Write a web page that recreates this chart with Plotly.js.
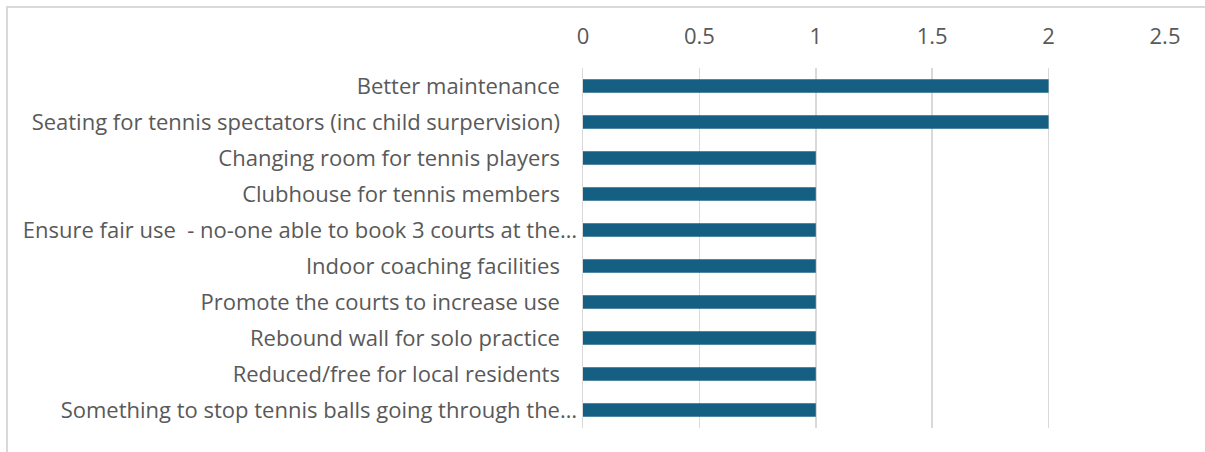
<!DOCTYPE html>
<html>
<head>
<meta charset="utf-8">
<script src="https://cdn.plot.ly/plotly-3.0.1.min.js"></script>
<style>
  html, body { margin: 0; padding: 0; background: #fff; }
  #chart { position: absolute; left: 0; top: 0; width: 1205px; height: 452px; }
  #frame { position: absolute; left: 6px; top: 6px; width: 1300px; height: 600px;
           border-left: 2px solid #d9d9d9; border-top: 2px solid #d9d9d9; pointer-events: none; }
</style>
</head>
<body>
<div id="chart"></div>
<div id="frame"></div>
<script>
const categories = [
  "Better maintenance",
  "Seating for tennis spectators (inc child surpervision)",
  "Changing room for tennis players",
  "Clubhouse for tennis members",
  "Ensure fair use  - no-one able to book 3 courts at the…",
  "Indoor coaching facilities",
  "Promote the courts to increase use",
  "Rebound wall for solo practice",
  "Reduced/free for local residents",
  "Something to stop tennis balls going through the…"
];
const values = [2, 2, 1, 1, 1, 1, 1, 1, 1, 1];
const xTicks = [0, 0.5, 1, 1.5, 2, 2.5];
const xTickLabels = ["0", "0.5", "1", "1.5", "2", "2.5"];

const pad = "\u00a0\u00a0\u00a0";
const tickText = categories.map(c => c.endsWith("…") ? c : c + pad);

const textColor = "#595959";
const fontFamily = "'Open Sans', 'Noto Sans', sans-serif";

Plotly.newPlot("chart", [{
  type: "bar",
  orientation: "h",
  x: values,
  y: categories,
  marker: { color: "#156082" },
  hoverinfo: "x+y"
}], {
  width: 1205,
  height: 452,
  margin: { l: 583, r: 40, t: 68, b: 24, pad: 0 },
  paper_bgcolor: "#ffffff",
  plot_bgcolor: "#ffffff",
  bargap: 0.63,
  showlegend: false,
  font: { family: fontFamily, size: 22, color: textColor },
  xaxis: {
    side: "top",
    range: [0, 2.5],
    tickvals: xTicks,
    ticktext: xTickLabels,
    showgrid: true,
    gridcolor: "#d9d9d9",
    gridwidth: 1.5,
    zeroline: false,
    showline: false,
    ticks: "",
    ticklabelstandoff: 19,
    tickfont: { family: fontFamily, size: 22, color: textColor },
    fixedrange: true
  },
  yaxis: {
    type: "category",
    autorange: "reversed",
    tickvals: categories,
    ticktext: tickText,
    showgrid: false,
    zeroline: false,
    showline: true,
    linecolor: "#d9d9d9",
    linewidth: 1.5,
    ticks: "",
    ticklabelstandoff: 0,
    tickfont: { family: fontFamily, size: 22, color: textColor },
    fixedrange: true
  }
}, { displayModeBar: false, staticPlot: true });
</script>
</body>
</html>
